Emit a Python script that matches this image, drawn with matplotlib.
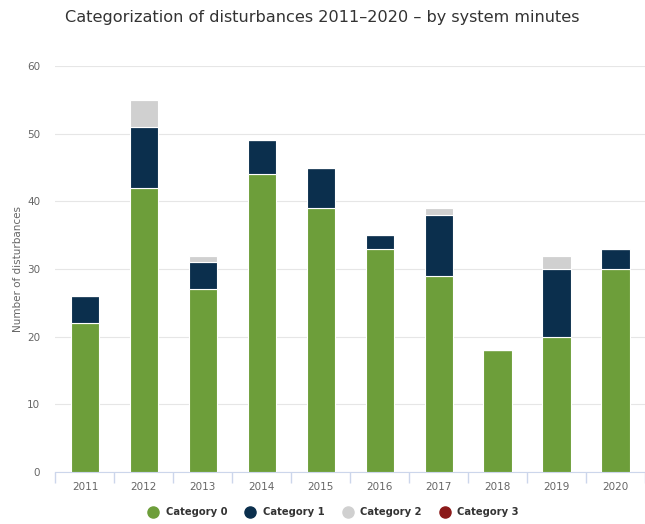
import matplotlib.pyplot as plt
from matplotlib.lines import Line2D
import numpy as np

years = ['2011', '2012', '2013', '2014', '2015', '2016', '2017', '2018', '2019', '2020']
cat0 = [22, 42, 27, 44, 39, 33, 29, 18, 20, 30]
cat1 = [4, 9, 4, 5, 6, 2, 9, 0, 10, 3]
cat2 = [0, 4, 1, 0, 0, 0, 1, 0, 2, 0]
cat3 = [0, 0, 0, 0, 0, 0, 0, 0, 0, 0]

series = [('Category 0', cat0, '#6d9e3a'),
          ('Category 1', cat1, '#0b2f4d'),
          ('Category 2', cat2, '#d0d0d0'),
          ('Category 3', cat3, '#8b1a1a')]

fig = plt.figure(figsize=(6.45, 5.24), dpi=100)
ax = fig.add_axes([0.086, 0.099, 0.914, 0.775])

x = np.arange(len(years))
bottom = np.zeros(len(years))
for name, vals, color in series:
    vals = np.array(vals, dtype=float)
    ax.bar(x, vals, width=0.48, bottom=bottom, color=color,
           edgecolor='white', linewidth=0.8, zorder=3)
    bottom += vals

ax.set_xlim(-0.5, len(years) - 0.5)
ax.set_ylim(0, 60)
ax.set_yticks(range(0, 61, 10))
ax.grid(axis='y', color='#e6e6e6', linewidth=0.8, zorder=0)

ax.set_xticks(x)
ax.set_xticklabels(years)
ax.set_xticks(np.arange(-0.5, len(years)), minor=True)
ax.tick_params(axis='x', which='major', length=0, pad=7, labelsize=7.5, labelcolor='#666666')
ax.tick_params(axis='x', which='minor', length=8, color='#ccd6eb', width=1)
ax.tick_params(axis='y', length=0, pad=11, labelsize=7.5, labelcolor='#666666')

for side in ['top', 'right', 'left']:
    ax.spines[side].set_visible(False)
ax.spines['bottom'].set_color('#ccd6eb')

ax.set_ylabel('Number of disturbances', fontsize=7.5, color='#666666', va='center')
ax.yaxis.set_label_coords(-0.064, 0.5)

fig.text(0.5, 0.967, 'Categorization of disturbances 2011\u20132020 \u2013 by system minutes',
         ha='center', va='center', fontsize=11.6, color='#333333')

handles = [Line2D([0], [0], marker='o', linestyle='', markersize=8,
                  markerfacecolor=c, markeredgecolor=c, label=n)
           for n, _, c in series]
leg = fig.legend(handles=handles, loc='center', bbox_to_anchor=(0.513, 0.022),
                 ncol=4, frameon=False, handletextpad=0.25, columnspacing=1.3,
                 prop={'size': 7.2, 'weight': 'bold'})
for t in leg.get_texts():
    t.set_color('#333333')

fig.savefig('out.png', dpi=100)
